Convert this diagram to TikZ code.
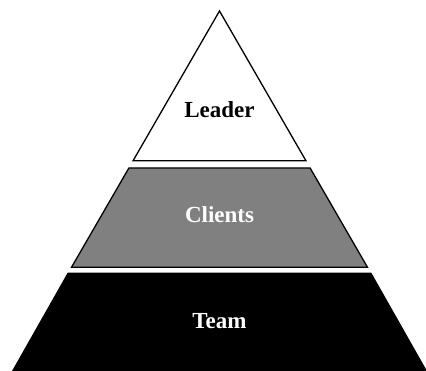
\documentclass[tikz,border=0pt]{standalone}
\usepackage{fontspec}
\setmainfont{Liberation Serif}
\usepackage{tikz}
\usetikzlibrary{calc}
\tikzset{
  tier/.style={draw=black, line width=1.3pt, line join=miter},
  label/.style={font=\fontsize{23}{27}\selectfont\bfseries, anchor=base},
}

\begin{document}
\begin{tikzpicture}[x=1pt, y=1pt]
  \useasboundingbox (0,0) rectangle (426,371);
  % Leader (top triangle)
  \coordinate (apex) at (219.5,360);
  \path[tier, fill=white] (apex) -- (133.1,210.3) -- (305.9,210.3) -- cycle;
  \node[label, text=black] (leader) at (219.5,253) {Leader};
  % Clients (middle band)
  \path[tier, fill=gray] (128.9,203) -- (310.1,203) -- (367.5,103.7) -- (71.5,103.7) -- cycle;
  \node[label, text=white] (clients) at (219.5,148) {Clients};
  % Team (bottom band)
  \path[tier, fill=black] (68.1,97.7) -- (370.9,97.7) -- (427.4,-2) -- (11.6,-2) -- cycle;
  \node[label, text=white] (team) at (219.5,42) {Team};
\end{tikzpicture}
\end{document}
